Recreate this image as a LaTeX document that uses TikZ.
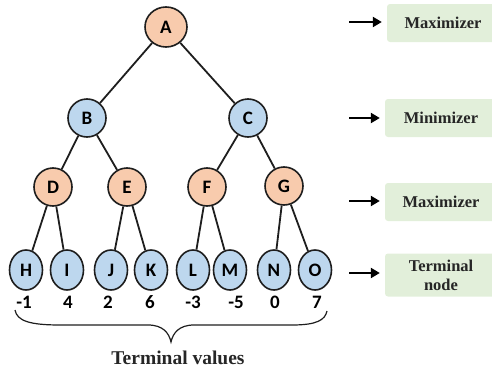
\documentclass[tikz,border=0pt]{standalone}
\usepackage{fontspec}
\setmainfont{Liberation Serif}
\newfontfamily\labelfont{Carlito}
\usetikzlibrary{arrows.meta,shapes.geometric}
\definecolor{maxfill}{HTML}{F8CBAD}
\definecolor{minfill}{HTML}{BDD7EE}
\definecolor{boxfill}{HTML}{E2EFDA}
\definecolor{edgecol}{HTML}{1E1E1E}
\begin{document}
\begin{tikzpicture}[x=1pt,y=-1pt,
  treenode/.style={ellipse,draw=edgecol,line width=1.6pt,inner sep=0pt,
    font=\labelfont\bfseries\fontsize{19}{19}\selectfont},
  maxnode/.style={treenode,fill=maxfill,minimum width=38pt,minimum height=38pt},
  minnode/.style={treenode,fill=minfill,minimum width=38pt,minimum height=38pt},
  leafnode/.style={treenode,fill=minfill,minimum width=33pt,minimum height=40pt},
  value/.style={font=\labelfont\bfseries\fontsize{19}{19}\selectfont,inner sep=0pt},
  edge/.style={draw=edgecol,line width=1.8pt},
  levelbox/.style={fill=boxfill,rounded corners=3pt,minimum width=112pt,
    minimum height=38pt,font=\bfseries\fontsize{16.5}{19}\selectfont,align=center,
    text=black!85},
  levelarrow/.style={draw=black,line width=2.2pt,
    -{Triangle[length=9pt,width=10pt]},shorten >=5pt}]
\useasboundingbox (0,0) rectangle (492,372);

% game tree
\node[maxnode,minimum width=42pt,minimum height=40pt] (A) at (166,27) {A};
\node[minnode] (B) at (87,118) {B};
\node[minnode] (C) at (248,118) {C};
\node[maxnode] (D) at (53,187) {D};
\node[maxnode] (E) at (127,187) {E};
\node[maxnode] (F) at (207,187) {F};
\node[maxnode] (G) at (284,186) {G};
\foreach \n/\x in {H/26,I/67,J/111,K/151,L/193,M/230,N/274,O/315}
  \node[leafnode] (\n) at (\x,270) {\n};

\foreach \p/\c in {A/B,A/C,B/D,B/E,C/F,C/G,D/H,D/I,E/J,E/K,F/L,F/M,G/N,G/O}
  \draw[edge] (\p) -- (\c);

% terminal values
\foreach \n/\x/\v in {H/24/-1,I/68/4,J/108/2,K/150/6,L/193/-3,M/236/-5,N/275/0,O/317/7}
  \node[value] (v\n) at (\x,302) {\v};

% brace under the terminal values
\draw[edgecol,line width=1.2pt]
  (15,310) .. controls (17,321) and (30,325) .. (60,325) -- (148,325)
  .. controls (163,325) and (169,333) .. (171,342)
  .. controls (173,333) and (179,325) .. (194,325) -- (292,325)
  .. controls (317,325) and (325,320) .. (327,311);
\node[font=\bfseries\fontsize{19.5}{20}\selectfont,text=black!85,inner sep=0pt] (tv) at (178,358) {Terminal values};

% level legend
\node[levelbox] (lv1) at (443,23) {Maximizer};
\node[levelbox] (lv2) at (441,118) {Minimizer};
\node[levelbox] (lv3) at (441,202) {Maximizer};
\node[levelbox,minimum height=43pt] (lv4) at (441,275) {Terminal\\node};
\coordinate (s1) at (349,22);
\coordinate (s2) at (349,118);
\coordinate (s3) at (349,201);
\coordinate (s4) at (349,273);
\draw[levelarrow] (s1) -- (s1 -| lv1.west);
\draw[levelarrow] (s2) -- (s2 -| lv2.west);
\draw[levelarrow] (s3) -- (s3 -| lv3.west);
\draw[levelarrow] (s4) -- (s4 -| lv4.west);
\end{tikzpicture}
\end{document}
